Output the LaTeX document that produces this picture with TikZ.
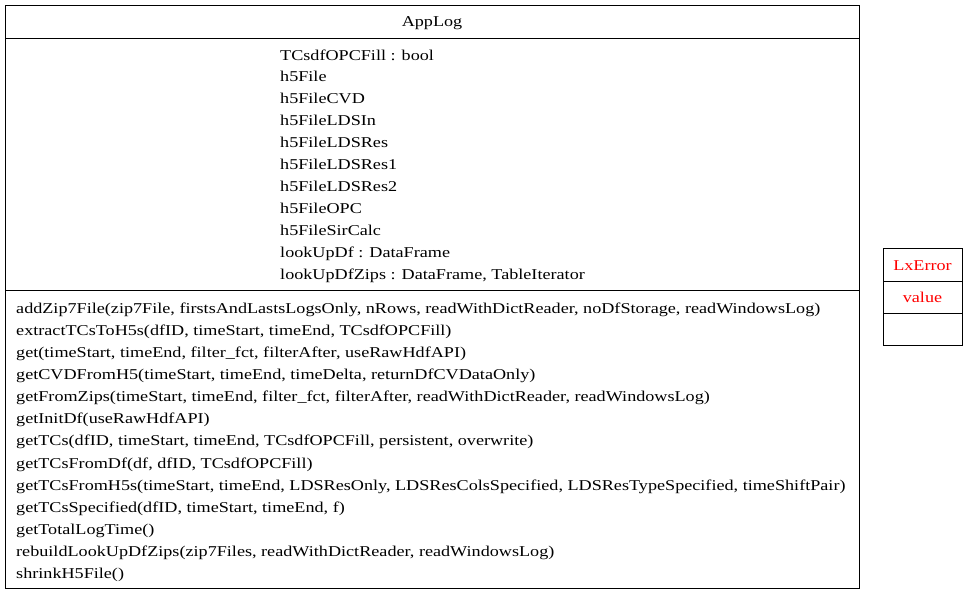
\documentclass[tikz,border=0pt]{standalone}
\usepackage{fontspec}
\setmainfont{Liberation Serif}[FakeStretch=1.21]
\begin{document}
\begin{tikzpicture}[x=1pt,y=-1pt,
  box/.style={draw=black,line width=1pt},
  txt/.style={anchor=base west,inner sep=0pt,font=\fontsize{15}{17}\selectfont},
  ctxt/.style={anchor=base,inner sep=0pt,font=\fontsize{15}{17}\selectfont},
  err/.style={ctxt,text=red}]
\useasboundingbox (0,0) rectangle (968,594);
% AppLog class
\draw[box] (5,6) rectangle (859,588);
\draw[box] (5,39) -- (859,39);
\draw[box] (5,290) -- (859,290);
\node[ctxt] (title) at (432,27) {AppLog};
\foreach \t [count=\i from 0] in {%
  TCsdfOPCFill : bool,
  h5File,
  h5FileCVD,
  h5FileLDSIn,
  h5FileLDSRes,
  h5FileLDSRes1,
  h5FileLDSRes2,
  h5FileOPC,
  h5FileSirCalc,
  lookUpDf : DataFrame,
  {lookUpDfZips : DataFrame, TableIterator}}
  \node[txt] (a\i) at (280,{60+21.9*\i}) {\t};
\foreach \t [count=\i from 0] in {%
  {addZip7File(zip7File, firstsAndLastsLogsOnly, nRows, readWithDictReader, noDfStorage, readWindowsLog)},
  {extractTCsToH5s(dfID, timeStart, timeEnd, TCsdfOPCFill)},
  {get(timeStart, timeEnd, filter\_fct, filterAfter, useRawHdfAPI)},
  {getCVDFromH5(timeStart, timeEnd, timeDelta, returnDfCVDataOnly)},
  {getFromZips(timeStart, timeEnd, filter\_fct, filterAfter, readWithDictReader, readWindowsLog)},
  {getInitDf(useRawHdfAPI)},
  {getTCs(dfID, timeStart, timeEnd, TCsdfOPCFill, persistent, overwrite)},
  {getTCsFromDf(df, dfID, TCsdfOPCFill)},
  {getTCsFromH5s(timeStart, timeEnd, LDSResOnly, LDSResColsSpecified, LDSResTypeSpecified, timeShiftPair)},
  {getTCsSpecified(dfID, timeStart, timeEnd, f)},
  {getTotalLogTime()},
  {rebuildLookUpDfZips(zip7Files, readWithDictReader, readWindowsLog)},
  {shrinkH5File()}}
  \node[txt] (m\i) at (16,{313+22.15*\i}) {\t};
% LxError class
\draw[box] (883,248) rectangle (962,345);
\draw[box] (883,281) -- (962,281);
\draw[box] (883,313) -- (962,313);
\node[err] (lx) at (922.5,270) {LxError};
\node[err] (lxv) at (922.5,302) {value};
\end{tikzpicture}
\end{document}
